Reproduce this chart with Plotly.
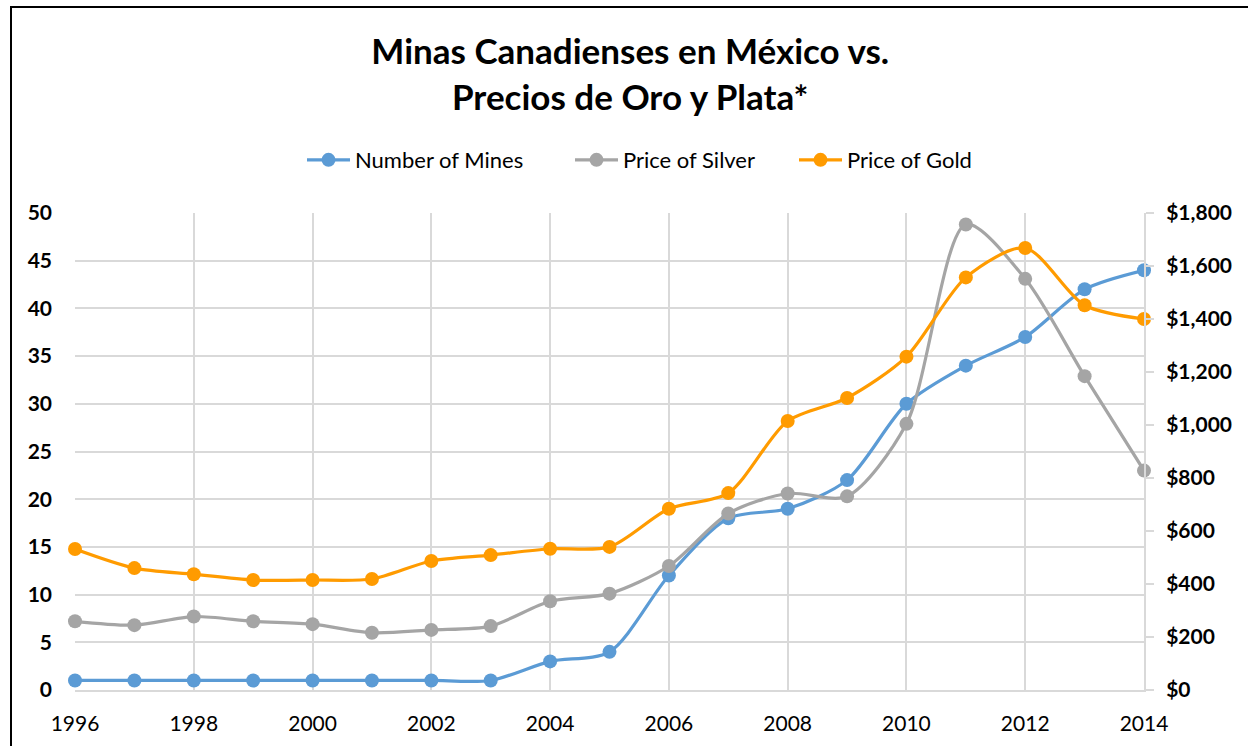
import plotly.graph_objects as go

years = list(range(1996, 2015))
mines = [1, 1, 1, 1, 1, 1, 1, 1, 3, 4, 12, 18, 19, 22, 30, 34, 37, 42, 44]
silver = [7.2, 6.8, 7.7, 7.2, 6.9, 6.0, 6.3, 6.7, 9.3, 10.1, 13.0, 18.5, 20.6, 20.3, 27.9, 48.8, 43.1, 32.9, 23.0]
gold = [532, 460, 437, 415, 415, 419, 487, 509, 533, 540, 684, 743, 1015, 1102, 1258, 1557, 1668, 1452, 1400]

left_ticks = list(range(0, 51, 5))
right_ticks = list(range(0, 1801, 200))
right_labels = ["${:,}".format(v) for v in right_ticks]
x_ticks = list(range(1996, 2015, 2))

FONT = "Lato"
BLUE = "#5B9BD5"
GRAY = "#A5A5A5"
ORANGE = "#FF9B00"
GRID = "#D9D9D9"

fig = go.Figure()
common = dict(mode="lines+markers", line_shape="spline", cliponaxis=False)
fig.add_trace(go.Scatter(x=years, y=mines, name="Number of Mines", legend="legend",
                         line=dict(color=BLUE, width=3.2, smoothing=0.8),
                         marker=dict(size=14, color=BLUE), **common))
fig.add_trace(go.Scatter(x=years, y=silver, name="Price of Silver", legend="legend2",
                         line=dict(color=GRAY, width=3.2, smoothing=0.8),
                         marker=dict(size=14, color=GRAY), **common))
fig.add_trace(go.Scatter(x=years, y=gold, name="Price of Gold", yaxis="y2", legend="legend3",
                         line=dict(color=ORANGE, width=3.2, smoothing=0.8),
                         marker=dict(size=14, color=ORANGE), **common))

def px_x(px):
    return (px - 75) / 1069

leg_common = dict(orientation="h", y=1.111, yanchor="middle", xanchor="left",
                  font=dict(family=FONT, size=22, color="#000000"), itemwidth=43,
                  bgcolor="rgba(0,0,0,0)")

fig.update_layout(
    width=1248, height=746,
    paper_bgcolor="white", plot_bgcolor="white",
    margin=dict(l=75, r=104, t=213, b=56),
    font=dict(family=FONT, color="#000000"),
    title=dict(text="Minas Canadienses en México vs.<br>Precios de Oro y Plata*",
               x=0.505, xanchor="center", y=0.914, yanchor="middle",
               font=dict(family=FONT, size=35, color="#000000", weight="bold")),
    showlegend=True,
    legend=dict(x=px_x(302), **leg_common),
    legend2=dict(x=px_x(570), **leg_common),
    legend3=dict(x=px_x(794), **leg_common),
    xaxis=dict(range=[1996, 2014], tickvals=x_ticks, showgrid=True, gridcolor=GRID, gridwidth=1.5,
               showline=True, linecolor=GRID, linewidth=2, zeroline=False, automargin=False,
               tickfont=dict(family=FONT, size=21, color="#000000"), ticks="",
               ticklabelstandoff=14),
    yaxis=dict(range=[0, 50], tickvals=left_ticks, showgrid=True, gridcolor=GRID, gridwidth=1.5,
               zeroline=False, showline=False, automargin=False,
               tickfont=dict(family=FONT, size=21, color="#000000", weight="bold"),
               ticks="", ticklabelstandoff=22),
    yaxis2=dict(range=[0, 1800], tickvals=right_ticks, ticktext=right_labels,
                overlaying="y", side="right", automargin=False,
                showgrid=False, zeroline=False, showline=True, linecolor=GRID, linewidth=2,
                ticks="outside", ticklen=8, tickcolor=GRID, tickwidth=2, ticklabelstandoff=8,
                tickfont=dict(family=FONT, size=21, color="#000000", weight="bold")),
    shapes=[dict(type="rect", xref="paper", yref="paper",
                 x0=(11 - 75) / 1069, x1=1.3, y0=-0.3, y1=(690 - 7) / 477,
                 line=dict(color="#000000", width=2), fillcolor="rgba(0,0,0,0)", layer="below")],
)

fig.write_html("out.html")
